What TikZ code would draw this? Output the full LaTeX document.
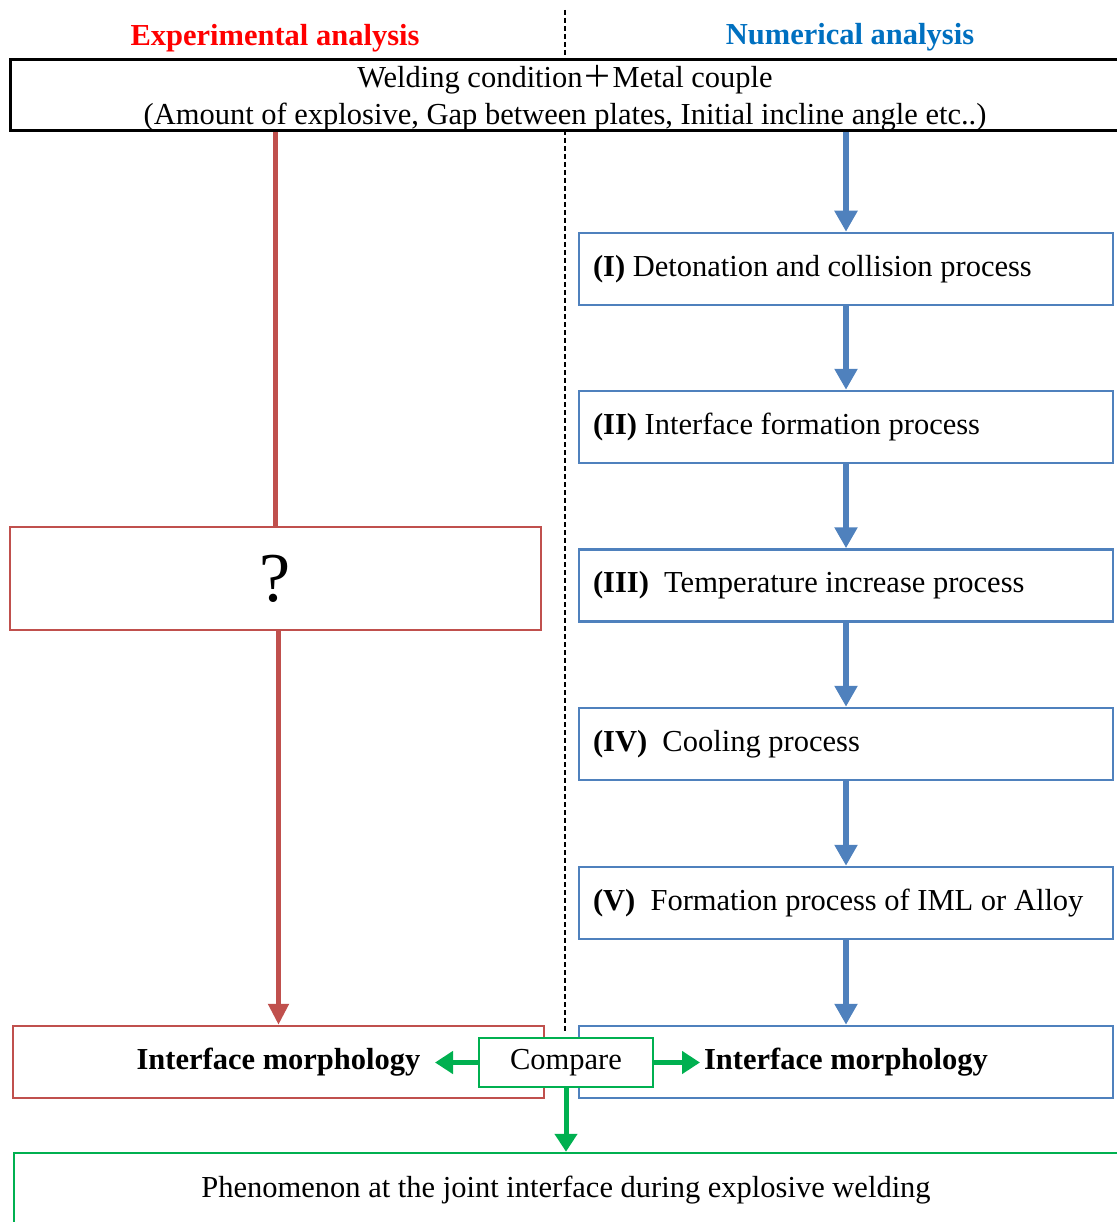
\documentclass[tikz,border=0pt]{standalone}
\usepackage{fontspec}
\setmainfont{Liberation Serif}
\newfontfamily\cjkfont{Noto Sans CJK SC}
\usetikzlibrary{arrows.meta}

\definecolor{expred}{RGB}{192,80,77}
\definecolor{numblue}{RGB}{79,129,189}
\definecolor{cmpgreen}{RGB}{0,176,80}
\definecolor{titlered}{RGB}{255,0,0}
\definecolor{titleblue}{RGB}{0,112,192}

\tikzset{
  txt/.style={font=\fontsize{30.5}{36}\selectfont},
  stepbox/.style={txt, draw=numblue, line width=2.5pt, minimum height=72pt,
    text width=506pt, inner xsep=14pt, inner ysep=0pt, align=flush left},
  expbox/.style={txt, draw=expred, line width=2.5pt, minimum width=531pt,
    minimum height=72pt, inner sep=0pt},
  numline/.style={numblue, line width=6pt, -{Triangle[length=21pt,width=22pt]}},
  expline/.style={expred, line width=5pt},
  cmpline/.style={cmpgreen, line width=5pt, -{Triangle[length=18pt,width=22pt]}}
}

\begin{document}
\begin{tikzpicture}[x=1pt, y=-1pt]
    \useasboundingbox (0,0) rectangle (1116,1222);
    % divider
    \draw[dashed, line width=1.2pt, dash pattern=on 5pt off 3pt] (565,10) -- (565,1033);
    % titles
    \node[txt, font=\fontsize{30.5}{36}\selectfont\bfseries, text=titlered] (exptitle) at (275,38) {Experimental analysis};
    \node[txt, font=\fontsize{30.5}{36}\selectfont\bfseries, text=titleblue] (numtitle) at (850,37) {Numerical analysis};
    % welding condition
    \node[draw, line width=3pt, fill=white, minimum width=1110pt, minimum height=71pt] (cond) at (565,95.5) {};
    \node[txt, font=\fontsize{30.5}{37}\selectfont, align=center, inner sep=0pt] (condtext) at (565,98)
      {Welding condition{\cjkfont\fontsize{30}{37}\selectfont ＋}Metal couple\\(Amount of explosive, Gap between plates, Initial incline angle etc..)};
    % numerical steps
    \node[stepbox] (s1) at (846,269) {\textbf{(I)} Detonation and collision process};
    \node[stepbox] (s2) at (846,427) {\textbf{(II)} Interface formation process};
    \node[stepbox] (s3) at (846,585.5) {\textbf{(III)}\ \ Temperature increase process};
    \node[stepbox] (s4) at (846,744) {\textbf{(IV)}\ \ Cooling process};
    \node[stepbox] (s5) at (846,903) {\textbf{(V)}\ \ Formation process of IML or Alloy};
    \node[stepbox, text width=400pt, inner xsep=0pt, minimum width=534pt, align=flush center,
      font=\fontsize{30.5}{36}\selectfont\bfseries] (nummorph) at (846,1062) {Interface morphology};
    % experimental side
    \node[expbox, minimum height=103pt, font=\fontsize{70}{72}\selectfont] (unknown) at (275.5,578.5) {?};
    \node[expbox, font=\fontsize{30.5}{36}\selectfont\bfseries] (expmorph) at (278.5,1062) {Interface morphology};
    % compare
    \node[txt, draw=cmpgreen, line width=2.5pt, fill=white, minimum width=174pt, minimum height=49pt,
      inner sep=0pt] (cmp) at (566,1062.5) {Compare};
    \node[txt, draw=cmpgreen, line width=2.5pt, minimum width=1104pt, minimum height=74pt,
      inner sep=0pt] (result) at (566,1190) {Phenomenon at the joint interface during explosive welding};
    \coordinate (cmpl) at (435,1062.5);
    \coordinate (cmpr) at (700,1062.5);
    % connectors
    \draw[expline] (cond.south -| unknown.north) -- (unknown.north);
    \draw[expline, -{Triangle[length=21pt,width=20pt]}] (unknown.south -| expmorph.north) -- (expmorph.north);
    \draw[numline] (cond.south -| s1.north) -- (s1.north);
    \draw[numline] (s1.south) -- (s2.north);
    \draw[numline] (s2.south) -- (s3.north);
    \draw[numline] (s3.south) -- (s4.north);
    \draw[numline] (s4.south) -- (s5.north);
    \draw[numline] (s5.south) -- (nummorph.north);
    \draw[cmpline] (cmp.west) -- (cmpl);
    \draw[cmpline] (cmp.east) -- (cmpr);
    \draw[cmpline] (cmp.south) -- (result.north);
\end{tikzpicture}
\end{document}
